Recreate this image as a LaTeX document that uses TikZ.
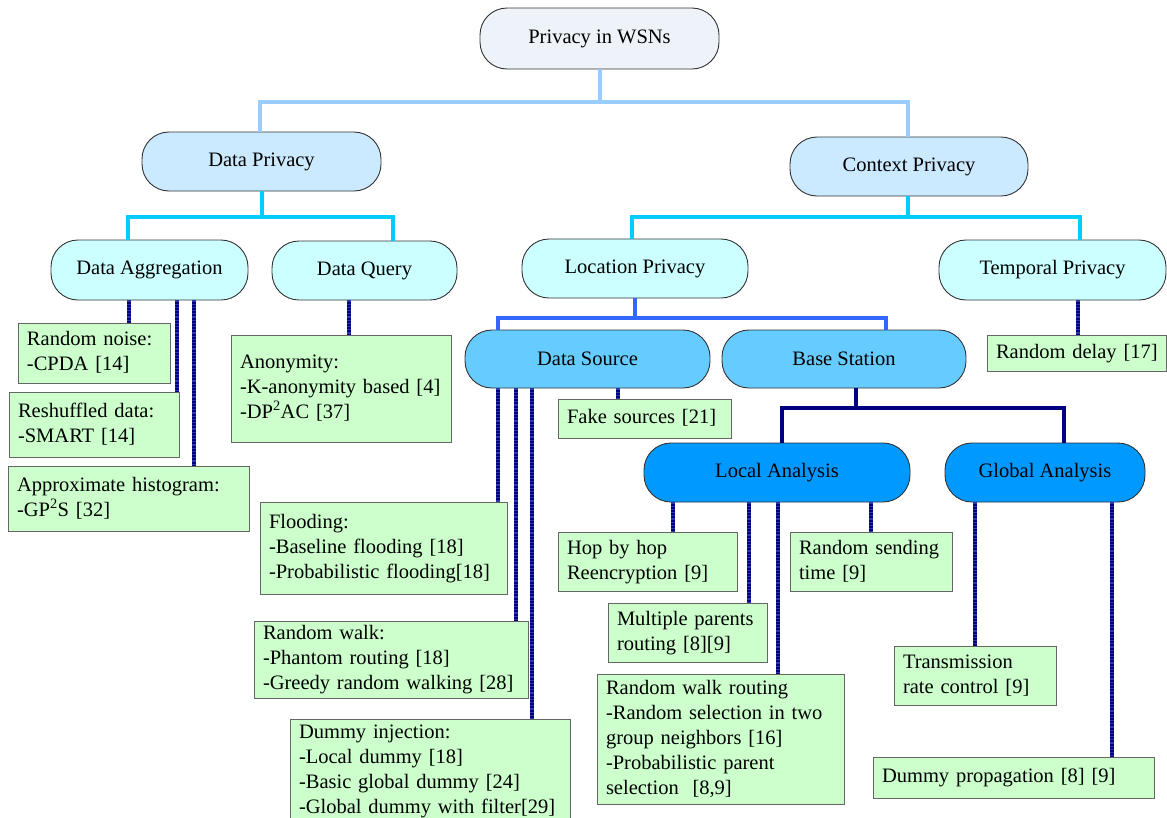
\documentclass[tikz,border=0pt]{standalone}
\usepackage{fontspec}
\setmainfont{Liberation Serif}

% fills and tree colours
\definecolor{rootfill}{HTML}{EEF2F9}
\definecolor{lvlone}{HTML}{CCEAFF}
\definecolor{lvltwo}{HTML}{CCFFFF}
\definecolor{lvlthree}{HTML}{66CCFF}
\definecolor{lvlfour}{HTML}{0099FF}
\definecolor{leaffill}{HTML}{CCFFCC}
\definecolor{wireA}{HTML}{99CCFF}
\definecolor{wireB}{HTML}{00CCFF}
\definecolor{wireC}{HTML}{3366FF}
\definecolor{wireD}{HTML}{000080}
\definecolor{wireDlight}{HTML}{2838A8}

% unbreakable left-aligned lines inside a technique box
\newcommand\techlines[1]{\begin{tabular}{@{}l@{}}#1\end{tabular}}

\begin{document}
\begin{tikzpicture}[x=1pt,y=-1pt,
  txt/.style={font=\fontsize{20.5}{25}\selectfont},
  pill/.style={txt, draw=black!80, line width=0.9pt, rounded corners=27pt,
               inner sep=0pt},
  leaf/.style={txt, draw=black!60, line width=0.9pt, fill=leaffill,
               align=left, inner xsep=9pt, inner ysep=0pt},
  wire/.style={line width=4pt},
  dl/.style={draw=wireD, line width=3.4pt,
             postaction={draw=wireDlight, line width=3.4pt, dash pattern=on 1.2pt off 2pt}}
]
\useasboundingbox (0,0) rectangle (1167,817);

% ---- category nodes ----
\node[pill, fill=rootfill, minimum width=239, minimum height=61] (root) at (599.5,38.5) {Privacy in WSNs};

\node[pill, fill=lvlone, minimum width=239, minimum height=59] (dp) at (261.5,161.5) {Data Privacy};
\node[pill, fill=lvlone, minimum width=238, minimum height=59] (cp) at (909,166.5) {Context Privacy};

\node[pill, fill=lvltwo, minimum width=197, minimum height=60] (agg) at (149.5,270) {Data Aggregation};
\node[pill, fill=lvltwo, minimum width=185, minimum height=59] (query) at (364.5,270.5) {Data Query};
\node[pill, fill=lvltwo, minimum width=226, minimum height=59] (loc) at (635,268.5) {Location Privacy};
\node[pill, fill=lvltwo, minimum width=227, minimum height=60] (temp) at (1052.5,270) {Temporal Privacy};

\node[pill, fill=lvlthree, minimum width=245, minimum height=58] (src) at (587.5,359) {Data Source};
\node[pill, fill=lvlthree, minimum width=244, minimum height=58] (bs) at (844,359) {Base Station};

\node[pill, fill=lvlfour, minimum width=266, minimum height=59] (local) at (777,472.5) {Local Analysis};
\node[pill, fill=lvlfour, minimum width=200, minimum height=59] (global) at (1045,472.5) {Global Analysis};

% ---- technique boxes ----
\node[leaf, minimum width=152, minimum height=60, text width=134] (noise) at (94,353)
  {\techlines{Random noise:\\-CPDA [14]}};
\node[leaf, minimum width=170, minimum height=65, text width=152] (reshuf) at (94,424.5)
  {\techlines{Reshuffled data:\\-SMART [14]}};
\node[leaf, minimum width=241, minimum height=65, text width=223] (hist) at (128.5,498.5)
  {\techlines{Approximate histogram:\\-GP\textsuperscript{2}S [32]}};
\node[leaf, minimum width=220, minimum height=107, text width=202] (anon) at (341,388.5)
  {\techlines{Anonymity:\\-K-anonymity based [4]\\-DP\textsuperscript{2}AC [37]}};
\node[leaf, minimum width=173, minimum height=39, text width=155] (fake) at (644.5,418.5)
  {\techlines{Fake sources [21]}};
\node[leaf, minimum width=247, minimum height=92, text width=229] (flood) at (383.5,548)
  {\techlines{Flooding:\\-Baseline flooding [18]\\-Probabilistic flooding[18]}};
\node[leaf, minimum width=274, minimum height=77, text width=256] (rwalk) at (391,659.5)
  {\techlines{Random walk:\\-Phantom routing [18]\\-Greedy random walking [28]}};
\node[leaf, minimum width=280, minimum height=104, text width=262] (dummy) at (430,771)
  {\techlines{Dummy injection:\\-Local dummy [18]\\-Basic global dummy [24]\\-Global dummy with filter[29]}};
\node[leaf, minimum width=179, minimum height=59, text width=161] (hop) at (647.5,561.5)
  {\techlines{Hop by hop\\Reencryption [9]}};
\node[leaf, minimum width=162, minimum height=59, text width=144] (rsend) at (871,561.5)
  {\techlines{Random sending\\time [9]}};
\node[leaf, minimum width=159, minimum height=59, text width=141] (multi) at (687.5,632.5)
  {\techlines{Multiple parents\\routing [8][9]}};
\node[leaf, minimum width=247, minimum height=130, text width=229] (rwr) at (720.5,739)
  {\techlines{Random walk routing\\-Random selection in two\\group neighbors [16]\\-Probabilistic parent\\selection \ [8,9]}};
\node[leaf, minimum width=162, minimum height=59, text width=144] (trans) at (975,675.5)
  {\techlines{Transmission\\rate control [9]}};
\node[leaf, minimum width=281, minimum height=41, text width=263] (dprop) at (1013.5,777.5)
  {\techlines{Dummy propagation [8] [9]}};
\node[leaf, minimum width=179, minimum height=36, text width=161] (delay) at (1076.5,353)
  {\techlines{Random delay [17]}};

% ---- tree links ----
\draw[wire, wireA] (root.south) -- (root.south |- 0,102);
\draw[wire, wireA] (dp.north -| 260,0) |- (908,102) -- (cp.north -| 908,0);

\draw[wire, wireB] (dp.south -| 262,0) -- (262,217);
\draw[wire, wireB] (agg.north -| 128,0) |- (393,217) -- (query.north -| 393,0);
\draw[wire, wireB] (cp.south -| 908,0) -- (908,217);
\draw[wire, wireB] (loc.north -| 632,0) |- (1080,217) -- (temp.north -| 1080,0);

\draw[wire, wireC] (loc.south -| 635,0) -- (635,318);
\draw[wire, wireC] (src.north -| 498,0) |- (886,318) -- (bs.north -| 886,0);

\draw[wire, wireD] (bs.south -| 856,0) -- (856,408);
\draw[wire, wireD] (local.north -| 782,0) |- (1064,408) -- (global.north -| 1064,0);

% ---- dotted links to technique boxes ----
\draw[dl] (agg.south -| 129,0) -- (noise.north -| 129,0);
\draw[dl] (agg.south -| 177,0) -- (reshuf.north -| 177,0);
\draw[dl] (agg.south -| 194,0) -- (hist.north -| 194,0);
\draw[dl] (query.south -| 349,0) -- (anon.north -| 349,0);
\draw[dl] (temp.south -| 1078,0) -- (delay.north -| 1078,0);

\draw[dl] (src.south -| 498,0) -- (flood.north -| 498,0);
\draw[dl] (src.south -| 516,0) -- (rwalk.north -| 516,0);
\draw[dl] (src.south -| 532,0) -- (dummy.north -| 532,0);
\draw[dl] (src.south -| 618,0) -- (fake.north -| 618,0);

\draw[dl] (local.south -| 673,0) -- (hop.north -| 673,0);
\draw[dl] (local.south -| 749,0) -- (multi.north -| 749,0);
\draw[dl] (local.south -| 778,0) -- (rwr.north -| 778,0);
\draw[dl] (local.south -| 871,0) -- (rsend.north -| 871,0);

\draw[dl] (global.south -| 975,0) -- (trans.north -| 975,0);
\draw[dl] (global.south -| 1112,0) -- (dprop.north -| 1112,0);
\end{tikzpicture}
\end{document}
